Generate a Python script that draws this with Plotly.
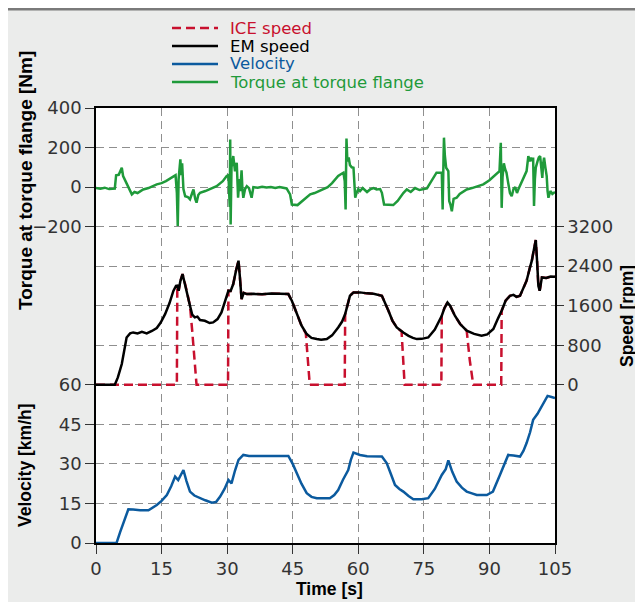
import plotly.graph_objects as go

# ---------------- data ----------------
vel_t = [0, 4.7, 5.5, 6.5, 7.4, 8.5, 10.1, 12.0, 13.9, 15.0, 16.2, 17.2, 18.1, 18.8, 19.3, 20.0, 20.7, 21.5,
         22.5, 23.8, 25.0, 26.5, 27.5, 28.4, 29.4, 30.3, 30.7, 31.0, 31.8, 32.6, 33.7, 35, 38, 41, 44.0, 45.0,
         45.9, 47.0, 48.2, 49.3, 50.5, 52, 53.5, 54.5, 55.4, 56.5, 57.7, 58.3, 58.9, 60.4, 62, 65.4, 66.5,
         67.5, 68.4, 69.4, 70.3, 71.5, 72.6, 74.5, 76.0, 77.5, 79.1, 80.0, 80.6, 81.5, 82.5, 83.7, 84.8, 86.0,
         87.1, 89.4, 90.8, 92.4, 93.4, 94.3, 95.5, 97.0, 97.8, 98.5, 99.3, 100.0, 101.0, 102.0, 102.8, 103.3,
         104.0, 105]
vel_v = [0, 0, 4, 9, 12.8, 12.7, 12.4, 12.4, 14.4, 16, 18.2, 21.5, 25.2, 23.9, 25.5, 27.7, 23.5, 19.5,
         18.0, 17.0, 16.2, 15.3, 15.6, 17.6, 20.5, 23.9, 23.0, 22.6, 27.5, 31.5, 33.4, 33.0, 33.0, 33.0, 33.0,
         30.0, 26.5, 22.5, 18.9, 17.5, 17.0, 16.9, 17.0, 18.2, 20.1, 24.0, 27.7, 31.5, 34.3, 33.4, 32.9, 32.8,
         30.3, 26.0, 22.0, 20.5, 19.5, 17.8, 16.6, 16.6, 17.0, 20.5, 25.8, 28.0, 31.3, 27.0, 23.3, 21.0, 19.5,
         18.8, 18.2, 18.2, 19.5, 25.8, 29.5, 33.4, 33.2, 32.8, 35.0, 37.9, 42.0, 46.7, 49.0, 51.8, 54.5, 55.8,
         55.5, 55.0]

em_t = [0, 4.3, 5.0, 5.9, 7.0, 7.8, 8.5, 9.5, 10.5, 11.6, 12.8, 13.9, 14.8, 15.8, 16.8, 17.7, 18.3, 18.6,
        18.9, 19.3, 19.8, 20.5, 21.5, 22.0, 22.6, 23.2, 23.8, 24.9, 26.0, 26.8, 27.8, 28.7, 29.5, 30.3, 30.8,
        31.4, 32.0, 32.6, 32.9, 33.3, 33.8, 34.5, 36, 38, 40, 42, 44.0, 44.8, 45.9, 47.0, 48.2, 49.3, 50.5,
        51.5, 52.8, 54.0, 55.4, 56.3, 57.0, 57.5, 58.1, 58.9, 60.4, 62.0, 63.5, 65.4, 66.2, 66.9, 67.8, 68.8,
        70.3, 71.5, 72.5, 73.4, 74.5, 76.0, 77.5, 79.1, 79.7, 80.4, 81.0, 82.1, 83.3, 84.8, 86.5, 88.2, 89.5,
        90.9, 92.0, 92.8, 93.7, 94.7, 95.5, 96.2, 97.0, 97.8, 98.5, 99.2, 99.7, 100.2, 100.6, 100.9, 101.2,
        101.5, 101.8, 102.0, 103, 104, 105]
em_s = [0, 0, 150, 420, 958, 1040, 1060, 1040, 1070, 1040, 1090, 1150, 1260, 1430, 1650, 1900, 2000, 2005,
        1904, 2100, 2241, 2000, 1600, 1420, 1363, 1380, 1310, 1296, 1250, 1262, 1330, 1464, 1680, 1904, 1900,
        2039, 2300, 2511, 2200, 1735, 1860, 1836, 1840, 1830, 1845, 1835, 1836, 1700, 1431, 1200, 1026, 950,
        925, 910, 925, 1000, 1161, 1280, 1431, 1600, 1802, 1870, 1870, 1850, 1840, 1802, 1650, 1498, 1300,
        1161, 1060, 990, 950, 925, 930, 958, 1120, 1397, 1550, 1667, 1600, 1397, 1230, 1094, 1030, 992, 1020,
        1128, 1350, 1498, 1700, 1802, 1820, 1780, 1802, 1950, 2106, 2350, 2511, 2750, 2930, 2500, 2000, 1904,
        2100, 2173, 2160, 2190, 2187]

ice_t = [0, 18.5, 18.6, 18.9, 19.3, 19.8, 20.5, 21.5, 22.0, 22.5, 23.0, 30.2, 30.3, 30.8, 31.4, 32.0, 32.6,
         32.9, 33.3, 33.8, 34.5, 36, 38, 40, 42, 44.0, 44.8, 45.9, 47.0, 48.0, 48.4, 48.9, 56.9, 57.0, 57.5,
         58.1, 58.9, 60.4, 62.0, 63.5, 65.4, 66.2, 66.9, 67.8, 68.8, 69.9, 70.2, 70.6, 79.0, 79.1, 79.7, 80.4,
         81.0, 82.1, 83.3, 84.8, 85.5, 86.3, 92.7, 92.8, 93.7, 94.7, 95.5, 96.2, 97.0, 97.8, 98.5, 99.2, 99.7,
         100.2, 100.6, 100.9, 101.2, 101.5, 101.8, 102.0, 103, 104, 105]
ice_s = [0, 0, 2005, 1904, 2100, 2241, 2000, 1600, 1100, 500, 0, 0, 1904, 1900, 2039, 2300, 2511, 2200,
         1735, 1860, 1836, 1840, 1830, 1845, 1835, 1836, 1700, 1431, 1200, 1040, 500, 0, 0, 1431, 1600, 1802,
         1870, 1870, 1850, 1840, 1802, 1650, 1498, 1300, 1161, 1080, 500, 0, 0, 1397, 1550, 1667, 1600, 1397,
         1230, 1094, 500, 0, 0, 1498, 1700, 1802, 1820, 1780, 1802, 1950, 2106, 2350, 2511, 2750, 2930, 2500,
         2000, 1904, 2100, 2173, 2160, 2190, 2187]

tq_t = [0, 1, 2, 3, 4.3, 4.6, 5.2, 5.9, 6.2, 7.0, 7.6, 8.2, 8.8, 9.5, 10.8, 12.0, 13.9, 15, 16, 17.0, 17.7,
        18.2, 18.5, 18.7, 18.9, 19.1, 19.3, 19.5, 19.7, 20.0, 20.4, 21.0, 21.5, 22.0, 22.3, 22.7, 23.0, 23.4,
        23.8, 25, 26.5, 27.6, 29.0, 29.9, 30.3, 30.6, 30.7, 30.8, 31.0, 31.4, 31.8, 32.2, 32.5, 32.8, 33.0,
        33.3, 33.5, 33.7, 34.1, 34.5, 35.0, 35.3, 35.6, 36.0, 37, 38, 39, 40, 41, 42, 43.6, 44.4, 44.8, 46.1,
        47, 48, 49.0, 50, 51, 52, 53, 54, 55.4, 56.0, 56.6, 56.9, 57.1, 57.2, 57.3, 57.5, 57.8, 58.1, 58.5,
        58.9, 59.1, 59.3, 59.6, 60.0, 60.4, 61, 62, 62.7, 63.5, 64.2, 65.0, 65.4, 65.9, 67, 68.0, 69.0, 69.5,
        70.3, 71.1, 72, 73, 74, 75.7, 76.5, 77.2, 77.9, 79.1, 79.3, 79.5, 79.6, 79.8, 80.1, 80.6, 80.8, 81.1,
        81.4, 81.8, 82.5, 83.2, 84.0, 84.8, 86, 87.5, 88.6, 90, 91.0, 91.7, 92.3, 92.6, 92.7, 92.8, 93.0,
        93.3, 93.6, 93.9, 94.3, 94.7, 95.1, 95.5, 95.9, 96.3, 96.6, 97.2, 97.8, 98.5, 98.9, 99.2, 99.5, 99.7,
        100.0, 100.1, 100.2, 100.4, 100.6, 101.0, 101.3, 101.6, 101.9, 102.1, 102.3, 102.5, 102.8, 103.1,
        103.3, 103.5, 103.8, 104.0, 104.4, 104.9, 105]
tq_v = [-5, -8, -3, -10, -8, 60, 62, 98, 56, 22, -10, -37, -25, -30, -12, -5, 14, 20, 30, 45, 56,
        60, -30, -197, 40, 100, 140, 60, 120, -10, -46, -50, -62, -30, -12, -60, -79, -40,
        -29, -20, -5, 5, 30, 56, 60, -100, 241, -189, 100, 157, 80, 123, -54, 40, -20,
        85, -10, -54, -10, 5, -5, -30, -54, 0, -3, 2, -2, 0, -5, 0, -7, -37, -88, -91,
        -75, -55, -37, -30, -20, -12, 0, 20, 56, 65, 73, 30, -113, 80, 246, 130, 150, 111, 100,
        98, 20, -54, -30, -10, -20, -5, -25, -12, -5, -12, -10, -29, -88, -91, -91, -70, -54,
        -30, -12, -25, -5, -15, -7, 20, 50, 73, 73, -113, 150, 250, 160, 98, 81, -71, -90,
        -122, -60, -54, -35, -25, -12, -5, 5, 14, 35, 55, 73, 80, 224, 100, -105, 50,
        120, 90, 73, 20, -30, -46, -10, 0, -30, -12, 20, 50, 81, 157, 130, 150, 132,
        149, 80, -96, 40, 98, 130, 150, 157, 100, 47, 120, 149, 100, 56,
        -20, -54, -30, -20, -35, -29, -25]

series_names = ["ICE speed", "EM speed", "Velocity", "Torque at torque flange"]
series_colors = ["#c8102e", "#000000", "#0b5a9e", "#1f9a3a"]
series_dash = ["dash", "solid", "solid", "solid"]

x_ticks = [0, 15, 30, 45, 60, 75, 90, 105]
torque_ticks = [-200, 0, 200, 400]
speed_ticks = [0, 800, 1600, 2400, 3200]
vel_ticks = [0, 15, 30, 45, 60]

# ---------------- layout helpers ----------------
# page body has an 8px margin, so screenshot px = figure px + 8
OFF = 8
W, H = 643, 602
ML, MT = 96 - OFF, 108 - OFF
PW, PH = 459, 435
MR = W - ML - PW
MB = H - MT - PH


def px2x(px):  # screenshot px -> paper x
    return (px - OFF - ML) / PW


def py2y(py):  # screenshot px -> paper y
    return (MT + PH - (py - OFF)) / PH


FONT = "DejaVu Sans, Verdana, sans-serif"
TFONT = "Liberation Sans, Arial, sans-serif"
BG = "#ebeceb"
GRID = "#8f8f8f"
TICKFONT = dict(family=FONT, size=18, color="#333333")

fig = go.Figure()

fig.add_trace(go.Scatter(x=tq_t, y=tq_v, mode="lines", yaxis="y",
                         line=dict(color=series_colors[3], width=2.5), showlegend=False))
fig.add_trace(go.Scatter(x=ice_t, y=ice_s, mode="lines", yaxis="y2",
                         line=dict(color=series_colors[0], width=2.5, dash="9px,5px"), showlegend=False))
fig.add_trace(go.Scatter(x=em_t, y=em_s, mode="lines", yaxis="y2",
                         line=dict(color=series_colors[1], width=2.5), showlegend=False))
fig.add_trace(go.Scatter(x=vel_t, y=vel_v, mode="lines", yaxis="y3",
                         line=dict(color=series_colors[2], width=2.5), showlegend=False))

common_axis = dict(showline=True, linecolor="#000000", linewidth=1.5, zeroline=False,
                   tickfont=TICKFONT, ticks="outside", tickcolor="#333333", tickwidth=1.2)

fig.update_layout(
    width=W, height=H, autosize=False,
    margin=dict(l=ML, r=MR, t=MT, b=MB),
    paper_bgcolor=BG, plot_bgcolor="#ffffff",
    showlegend=False,
    xaxis=dict(range=[0, 105], tickvals=x_ticks, ticklen=9, mirror=True,
               showgrid=True, gridcolor=GRID, griddash="8px,5px", gridwidth=1.2,
               **common_axis),
    yaxis=dict(range=[-1800, 400], tickvals=torque_ticks, ticklen=9, showgrid=False,
               **common_axis),
    yaxis2=dict(range=[-3200, 5600], tickvals=speed_ticks, ticklen=7, overlaying="y", side="right",
                anchor="x", showgrid=False, **common_axis),
    yaxis3=dict(range=[0, 165], tickvals=vel_ticks, ticklen=9, overlaying="y", side="left",
                anchor="x", showgrid=False, **common_axis),
    yaxis4=dict(range=[0, 11], tickvals=list(range(12)), overlaying="y", side="left", anchor="x",
                showgrid=True, gridcolor=GRID, griddash="8px,5px", gridwidth=1.2,
                showticklabels=False, ticks="", showline=False, zeroline=False),
)
# invisible trace so yaxis4 (grid) is realised
fig.add_trace(go.Scatter(x=[None], y=[None], yaxis="y4", showlegend=False, hoverinfo="skip"))

shapes = [
    dict(type="line", xref="paper", yref="paper", x0=px2x(0), x1=px2x(W + 20), y0=py2y(9), y1=py2y(9),
         line=dict(color="#7a7a7a", width=3)),
]

annotations = []
# manual legend
row0, row_gap = 28, 18
for i, (nm, col, ds) in enumerate(zip(series_names, series_colors, series_dash)):
    yy = py2y(row0 + i * row_gap)
    shapes.append(dict(type="line", xref="paper", yref="paper", x0=px2x(172), x1=px2x(218), y0=yy, y1=yy,
                       line=dict(color=col, width=2.5, dash=("9px,5px" if ds == "dash" else "solid"))))
    annotations.append(dict(xref="paper", yref="paper", x=px2x(228), y=yy, xanchor="left", yanchor="middle",
                            text=nm, showarrow=False, font=dict(family=FONT, size=16.5, color=col)))

TITLEFONT = dict(family=TFONT, size=17.5, color="#000000")
annotations += [
    dict(xref="paper", yref="paper", x=px2x(25), y=py2y(181), text="<b>Torque at torque flange [Nm]</b>",
         textangle=-90, showarrow=False, xanchor="center", yanchor="middle",
         font=dict(family=TFONT, size=19, color="#000000")),
    dict(xref="paper", yref="paper", x=px2x(25), y=py2y(465), text="<b>Velocity [km/h]</b>",
         textangle=-90, showarrow=False, xanchor="center", yanchor="middle", font=TITLEFONT),
    dict(xref="paper", yref="paper", x=px2x(627), y=py2y(316), text="<b>Speed [rpm]</b>",
         textangle=-90, showarrow=False, xanchor="center", yanchor="middle", font=TITLEFONT),
    dict(xref="paper", yref="paper", x=px2x(329), y=py2y(589), text="<b>Time [s]</b>",
         showarrow=False, xanchor="center", yanchor="middle", font=TITLEFONT),
]

fig.update_layout(shapes=shapes, annotations=annotations)
fig.write_html("out.html")
